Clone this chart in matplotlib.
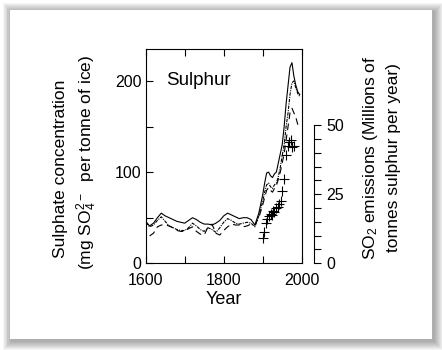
import matplotlib
matplotlib.use('Agg')
import matplotlib.pyplot as plt
from matplotlib.patches import Rectangle

plt.rcParams['font.family'] = ['Liberation Sans', 'DejaVu Sans']
plt.rcParams['mathtext.fontset'] = 'custom'
plt.rcParams['mathtext.rm'] = 'Liberation Sans'
plt.rcParams['mathtext.default'] = 'regular'

# ice-core sulphate records (mg SO4 per tonne of ice)
years = [1600, 1610, 1620, 1630, 1640, 1650, 1660, 1670, 1680, 1690,
         1700, 1710, 1720, 1730, 1740, 1750, 1760, 1770, 1780, 1790,
         1800, 1810, 1820, 1830, 1840, 1850, 1860, 1870, 1880, 1890,
         1900, 1905, 1910, 1915, 1920, 1925, 1930, 1935, 1940, 1945,
         1950, 1955, 1960, 1965, 1970, 1975, 1980, 1985, 1990, 1995]
core_a = [46, 41, 44, 50, 55, 52, 50, 48, 46, 45,
          44, 47, 50, 48, 45, 43, 43, 42, 44, 47,
          52, 55, 53, 51, 49, 50, 50, 48, 42, 55,
          75, 88, 99, 100, 96, 94, 98, 100, 110, 120,
          130, 150, 175, 195, 215, 220, 205, 195, 188, 185]
core_b = [45, 40, 42, 47, 51, 46, 41, 39, 37, 36,
          36, 39, 44, 41, 37, 35, 39, 37, 34, 39,
          45, 49, 47, 44, 43, 44, 45, 44, 40, 52,
          68, 78, 86, 88, 84, 82, 86, 88, 95, 105,
          118, 130, 150, 165, 185, 198, 200, 192, 186, 183]
core_c = [None, 30, 33, 40, 42, 42, 41, 39, 36, 35,
          35, 38, 40, 35, 32, 31, 40, 43, 33, 31,
          36, 40, 43, 42, 42, 40, 41, 43, 42, 50,
          64, 72, 80, 83, 80, 78, 82, 85, 92, 100,
          110, 120, 135, 150, 165, 170, 165, 160, 152, None]

# SO2 emissions (millions of tonnes sulphur per year)
em_years = [1900, 1904, 1908, 1912, 1916, 1920, 1924, 1927, 1930, 1934,
            1938, 1942, 1946, 1950, 1955, 1960, 1964, 1968, 1972, 1976, 1980]
emissions = [9, 11.5, 14.5, 16, 17, 18, 17.5, 19, 18.5, 20,
             20.5, 21.5, 22.5, 26, 30.5, 39, 42.5, 44, 44.5, 42, 42.5]

W, H = 442, 350
fig = plt.figure(figsize=(W / 100, H / 100), dpi=100)

# card with soft shadow
for i in range(9, 0, -1):
    fig.patches.append(Rectangle(((10 - i + 1.5) / W, (11 - i - 1.5) / H),
                                 (422 + 2 * i) / W, (329 + 2 * i) / H,
                                 transform=fig.transFigure, facecolor='black',
                                 edgecolor='none', alpha=0.04, zorder=-10))
fig.patches.append(Rectangle((10 / W, 11 / H), 422 / W, 329 / H,
                             transform=fig.transFigure, facecolor='white',
                             edgecolor='none', zorder=-9))

ax = fig.add_axes([0.3296, 0.2477, 0.353, 0.6123])
ax.patch.set_alpha(0)
ax.plot(years, core_a, color='black', lw=0.8)
ax.plot(years, core_b, color='black', lw=0.8, dashes=(3, 1, 1, 1))
ax.plot(years, core_c, color='black', lw=0.8, dashes=(6, 4))
ax.set_xlim(1600, 2000)
ax.set_ylim(0, 235)
ax.set_xticks([1600, 1700, 1800, 1900, 2000], ['1600', '', '1800', '', '2000'])
ax.set_yticks([0, 50, 100, 150, 200], ['0', '', '100', '', '200'])
ax.tick_params(direction='in', length=5, width=0.8, labelsize=11.5,
               top=True, right=False, pad=3)
ax.tick_params(axis='x', pad=7)
for s in ax.spines.values():
    s.set_linewidth(0.8)
ax.set_xlabel('Year', fontsize=13, labelpad=2)
ax.text(0.128, 0.855, 'Sulphur', transform=ax.transAxes, fontsize=13.5,
        va='center', ha='left')

ax2 = ax.twinx()
ax2.scatter(em_years, emissions, marker='+', s=60, color='black', lw=0.8)
ax2.set_ylim(0, 77.5)
for side in ['left', 'top', 'bottom']:
    ax2.spines[side].set_visible(False)
ax2.spines['right'].set_position(('outward', 8.9))
ax2.spines['right'].set_bounds(0, 50)
ax2.spines['right'].set_linewidth(0.8)
ax2.set_yticks(range(0, 55, 5),
               ['0', '', '', '', '', '25', '', '', '', '', '50'])
ax2.tick_params(direction='out', length=5, width=0.8, labelsize=11.5, pad=4)

fig.text(0.136, 0.517, 'Sulphate concentration', rotation=90,
         ha='center', va='center', fontsize=12.5)
fig.text(0.196, 0.537, '(mg SO$_4^{2-}$  per tonne of ice)', rotation=90,
         ha='center', va='center', fontsize=12.5)
fig.text(0.838, 0.55, 'SO$_2$ emissions (Millions of', rotation=90,
         ha='center', va='center', fontsize=12.5)
fig.text(0.891, 0.549, 'tonnes sulphur per year)', rotation=90,
         ha='center', va='center', fontsize=12.5)

fig.savefig('out.png', dpi=100, facecolor='white')
